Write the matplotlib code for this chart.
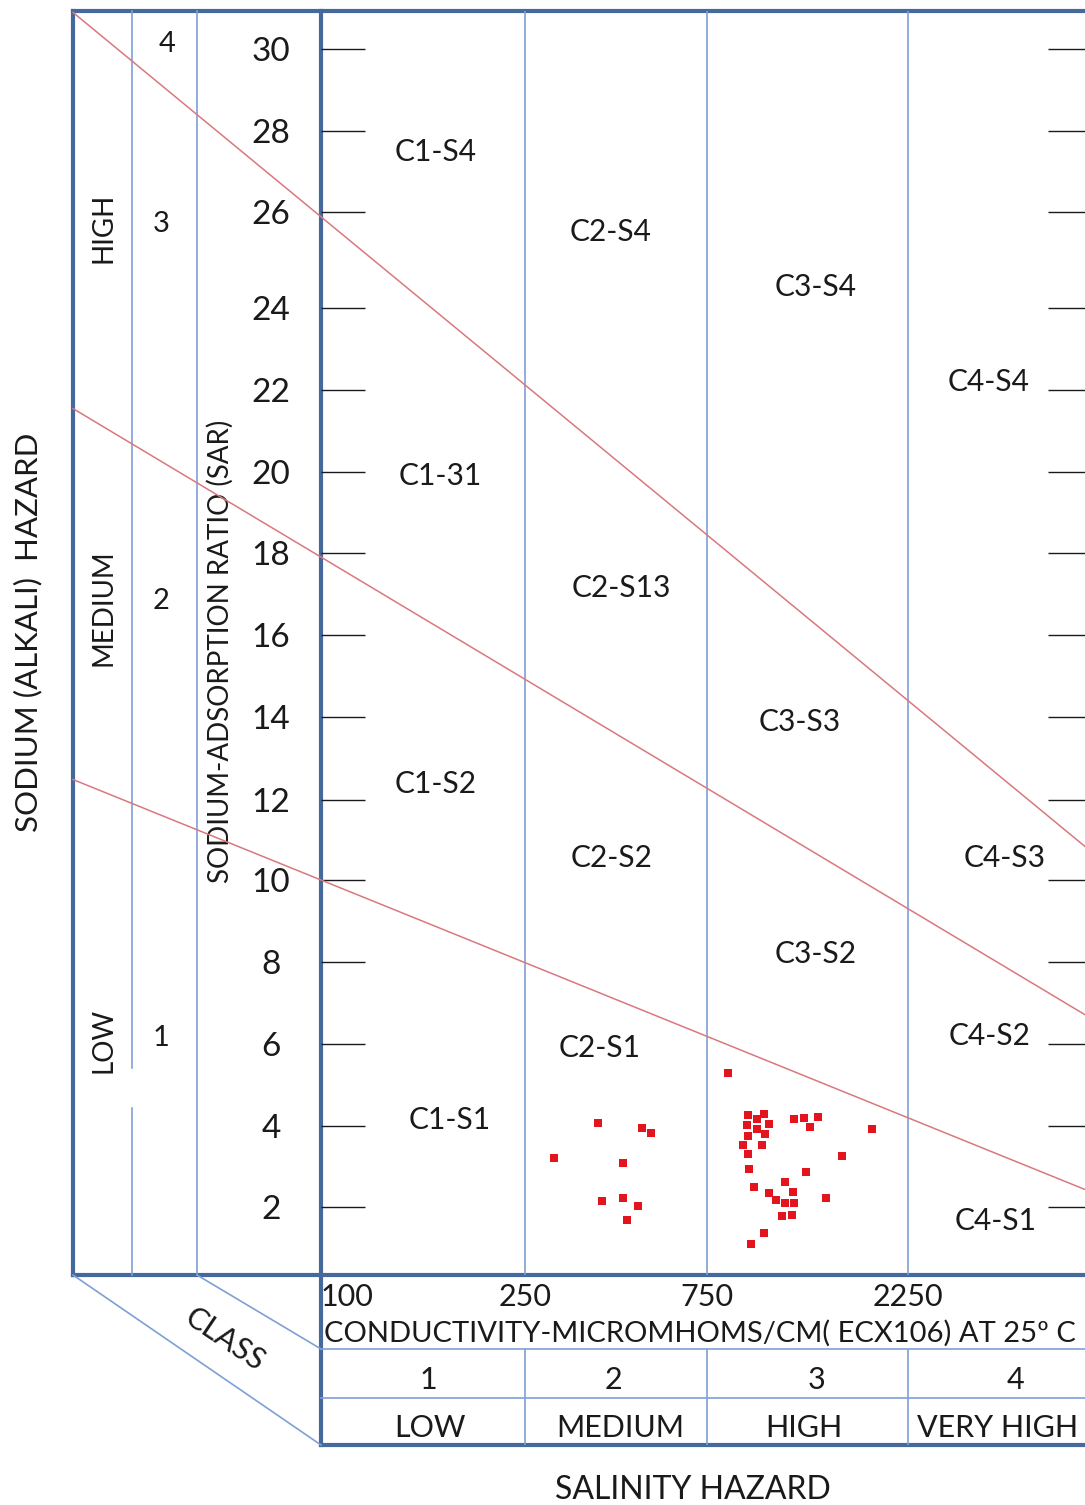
import matplotlib
matplotlib.use('Agg')
import matplotlib.pyplot as plt
import numpy as np

plt.rcParams['font.family'] = ['Lato', 'DejaVu Sans']

# scale of the printed diagram (hand drawn, so not a clean log / linear axis)
EC_ANCHORS = [100, 250, 750, 2250]           # class boundaries, micromhos/cm
EC_PAPER = [0, 204, 386, 587]                # distance from the SAR axis
SAR_ANCHORS = [2, 4, 6, 8, 10, 12, 14, 16, 18, 20, 22, 24, 26, 28, 30]
SAR_PAPER = [68, 149, 231, 313, 395, 475, 558, 640, 722, 803, 885, 967, 1063, 1144, 1226]

# sodium hazard boundaries (S1/S2, S2/S3, S3/S4) read at EC = 100 and EC = 2250
SAR_AT_100 = [10.0, 17.9, 25.9]
SAR_AT_2250 = [4.2, 9.3, 14.4]

# samples
ec = [388, 506, 535, 297, 452, 397, 452, 494, 462,
      841, 940, 1024, 984, 1051, 933, 984, 1030, 940, 915, 1011, 940, 945,
      971, 1051, 1094, 1151, 1198, 1151, 1207, 1130, 1192, 1024, 952,
      1207, 1272, 1378, 1315, 1289, 1569, 1440, 1851]
sar = [4.08, 3.94, 3.83, 3.20, 3.09, 2.15, 2.21, 2.03, 1.67,
       5.29, 4.28, 4.29, 4.17, 4.06, 4.03, 3.92, 3.81, 3.75, 3.53, 3.53, 3.31, 2.93,
       2.49, 2.34, 2.17, 2.62, 2.36, 2.09, 2.09, 1.79, 1.81, 1.37, 1.09,
       4.17, 4.20, 4.22, 3.98, 2.87, 3.25, 2.23, 3.92]

ec_labels = ['100', '250', '750', '2250']
sar_ticks = SAR_ANCHORS
class_nums = ['1', '2', '3', '4']
class_names = ['LOW', 'MEDIUM', 'HIGH', 'VERY HIGH']


def pw(v, xp, fp):
    v = np.asarray(v, dtype=float)
    out = np.interp(v, xp, fp)
    lo = (fp[1] - fp[0]) / (xp[1] - xp[0])
    hi = (fp[-1] - fp[-2]) / (xp[-1] - xp[-2])
    out = np.where(v < xp[0], fp[0] + (v - xp[0]) * lo, out)
    out = np.where(v > xp[-1], fp[-1] + (v - xp[-1]) * hi, out)
    return out


LOG_EC = np.log10(EC_ANCHORS)


def x_fwd(v):
    return pw(np.log10(np.clip(np.asarray(v, dtype=float), 1e-6, None)), LOG_EC, EC_PAPER)


def x_inv(u):
    return 10 ** pw(u, EC_PAPER, LOG_EC)


def y_fwd(v):
    return pw(v, SAR_ANCHORS, SAR_PAPER)


def y_inv(h):
    return pw(h, SAR_PAPER, SAR_ANCHORS)


W, H = 1085, 1505
FRAME = '#45699c'
THIN = '#7fa0d4'
RED_LINE = '#d9787e'
TXT = '#1a1a1a'

fig = plt.figure(figsize=(W / 100, H / 100), dpi=100)
fig.patch.set_facecolor('white')

# background layer in pixel units for the frame, side strips and table
bg = fig.add_axes([0, 0, 1, 1])
bg.set_xlim(0, W)
bg.set_ylim(H, 0)
bg.axis('off')

thick = 3.0
thin = 1.2
bg.plot([73, 1090], [11, 11], color=FRAME, lw=thick, solid_capstyle='projecting')
bg.plot([73, 1090], [1275, 1275], color=FRAME, lw=thick, solid_capstyle='projecting')
bg.plot([73, 73], [11, 1275], color=FRAME, lw=thick, solid_capstyle='projecting')
bg.plot([321, 321], [11, 1445], color=FRAME, lw=thick, solid_capstyle='projecting')
bg.plot([321, 1090], [1445, 1445], color=FRAME, lw=thick, solid_capstyle='projecting')

bg.plot([132, 132], [11, 1068], color=THIN, lw=thin)
bg.plot([132, 132], [1108, 1275], color=THIN, lw=thin)
bg.plot([197, 197], [11, 1275], color=THIN, lw=thin)
bg.plot([73, 321], [1275, 1445], color=THIN, lw=thin)
bg.plot([197, 321], [1275, 1349], color=THIN, lw=thin)
bg.plot([321, 1090], [1349, 1349], color=THIN, lw=thin)
bg.plot([321, 1090], [1398, 1398], color=THIN, lw=thin)

fs = 20
bg.text(103, 228, 'HIGH', rotation=90, ha='center', va='center', fontsize=fs, color=TXT)
bg.text(103, 608, 'MEDIUM', rotation=90, ha='center', va='center', fontsize=fs, color=TXT)
bg.text(103, 1040, 'LOW', rotation=90, ha='center', va='center', fontsize=fs, color=TXT)
bg.text(167, 44, '4', ha='center', va='center', fontsize=21, color=TXT)
bg.text(161, 224, '3', ha='center', va='center', fontsize=21, color=TXT)
bg.text(161, 601, '2', ha='center', va='center', fontsize=21, color=TXT)
bg.text(161, 1038, '1', ha='center', va='center', fontsize=21, color=TXT)
bg.text(220, 651, 'SODIUM-ADSORPTION RATIO (SAR)', rotation=90, ha='center',
        va='center', fontsize=20, color=TXT)
bg.text(28, 632, 'SODIUM (ALKALI)  HAZARD', rotation=90, ha='center', va='center',
        fontsize=22.5, color=TXT)
bg.text(225, 1340, 'CLASS', rotation=-34, ha='center', va='center', fontsize=22,
        color=TXT)
bg.text(324, 1333, 'CONDUCTIVITY-MICROMHOMS/CM( ECX106) AT 25º C', ha='left',
        va='center', fontsize=21, color=TXT)
bg.text(693, 1490, 'SALINITY HAZARD', ha='center', va='center', fontsize=23, color=TXT)

for xc, s in zip([428, 613, 817, 1015], class_nums):
    bg.text(xc, 1380, s, ha='center', va='center', fontsize=22, color=TXT)
for xc, s in zip([430, 620, 804, 998], class_names):
    bg.text(xc, 1428, s, ha='center', va='center', fontsize=22, color=TXT)

cells = [
    ('C1-S4', 436, 152), ('C2-S4', 611, 232), ('C3-S4', 816, 287), ('C4-S4', 989, 382),
    ('C1-31', 440, 476), ('C2-S13', 621, 588), ('C3-S3', 800, 722), ('C4-S3', 1005, 858),
    ('C1-S2', 436, 784), ('C2-S2', 612, 858), ('C3-S2', 816, 954), ('C2-S1', 600, 1048),
    ('C4-S2', 990, 1036), ('C1-S1', 450, 1120), ('C4-S1', 996, 1221),
]
for name, xc, yc in cells:
    bg.text(xc, yc, name, ha='center', va='center', fontsize=21.5, color=TXT)

# diagram axes
ax = fig.add_axes([321 / W, 1 - 1275 / H, (1085 - 321) / W, (1275 - 11) / H])
ax.patch.set_visible(False)
ax.set_xscale('function', functions=(x_fwd, x_inv))
ax.set_yscale('function', functions=(y_fwd, y_inv))
ax.set_xlim(100, float(x_inv(764)))
ax.set_ylim(float(y_inv(0)), float(y_inv(1264)))
for sp in ax.spines.values():
    sp.set_visible(False)

for b in EC_ANCHORS[1:]:
    ax.axvline(b, color=THIN, lw=thin, zorder=1)
ax.vlines(EC_ANCHORS[1:], -0.1345, -0.0585, transform=ax.get_xaxis_transform(),
          color=THIN, lw=thin, clip_on=False)

ax.set_yticks(sar_ticks)
ax.set_yticklabels([str(t) for t in sar_ticks])
ax.tick_params(axis='y', direction='in', length=32, width=1.0, color=TXT, pad=36,
               labelsize=24, labelcolor=TXT)
for t in ax.get_yticklabels():
    t.set_ha('center')
ax.hlines(sar_ticks, 0.9516, 1.0, transform=ax.get_yaxis_transform(), color=TXT,
          lw=1.0, clip_on=False)

ax.set_xticks(EC_ANCHORS)
ax.set_xticklabels(ec_labels)
ax.tick_params(axis='x', length=0, pad=6, labelsize=22, labelcolor=TXT)
ax.get_xticklabels()[0].set_ha('left')
ax.minorticks_off()

# sodium hazard boundaries, extended across the side strips
u_left, u_right = -248, 764
for s0, s1 in zip(SAR_AT_100, SAR_AT_2250):
    u0, u1 = x_fwd([100, 2250])
    h0, h1 = y_fwd([s0, s1])
    k = (h1 - h0) / (u1 - u0)
    uu = np.array([u_left, u_right], dtype=float)
    hh = h0 + k * (uu - u0)
    ax.plot(x_inv(uu), y_inv(hh), color=RED_LINE, lw=1.1, clip_on=False, zorder=2)

ax.scatter(ec, sar, marker='s', s=26, color='#e3141e', linewidths=0, zorder=3)

fig.savefig('out.png', dpi=100, facecolor='white')
